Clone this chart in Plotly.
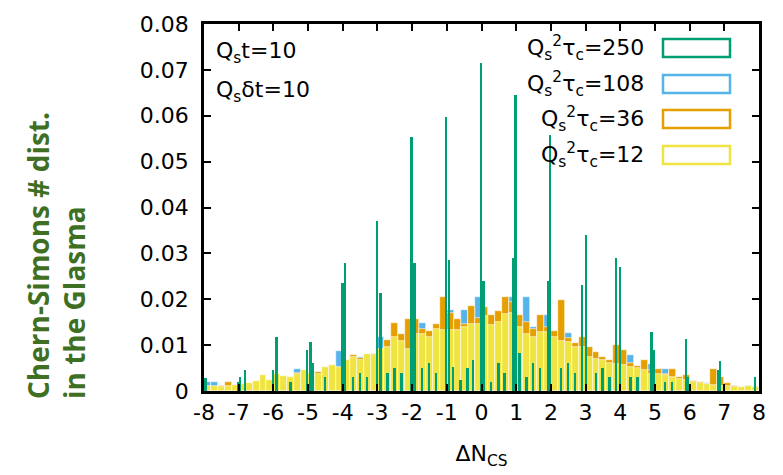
import numpy as np
import plotly.graph_objects as go

# bin centres (width 0.2) for the three broad distributions
bin_centers = np.round(np.arange(-7.9, 8.0, 0.2), 2)

# Qs^2 tau_c = 12 (yellow)
tau12 = [0.0012, 0.0010, 0.0009, 0.0011, 0.0013, 0.0015, 0.0018, 0.0022, 0.0034, 0.0025,
         0.0036, 0.0032, 0.0030, 0.0036, 0.0045, 0.0040, 0.0038, 0.0052, 0.0056, 0.0052,
         0.0067, 0.0074, 0.0068, 0.0081, 0.0078, 0.0092, 0.0096, 0.0118, 0.0110, 0.0092,
         0.0125, 0.0125, 0.0118, 0.0136, 0.0132, 0.0132, 0.0134, 0.0140, 0.0147, 0.0147,
         0.0163, 0.0143, 0.0150, 0.0168, 0.0170, 0.0140, 0.0125, 0.0118, 0.0128, 0.0128,
         0.0118, 0.0110, 0.0107, 0.0096, 0.0096, 0.0075, 0.0070, 0.0067, 0.0060, 0.0058,
         0.0056, 0.0052, 0.0050, 0.0045, 0.0038, 0.0036, 0.0034, 0.0030, 0.0026, 0.0023,
         0.0020, 0.0017, 0.0016, 0.0014, 0.0012, 0.0010, 0.0009, 0.0009, 0.0010, 0.0008]

# Qs^2 tau_c = 36 (orange)
tau36 = [0.0008, 0.0005, 0.0010, 0.0020, 0.0012, 0.0010, 0.0015, 0.0018, 0.0020, 0.0022,
         0.0028, 0.0030, 0.0025, 0.0040, 0.0035, 0.0032, 0.0042, 0.0049, 0.0045, 0.0050,
         0.0060, 0.0078, 0.0072, 0.0075, 0.0080, 0.0092, 0.0112, 0.0148, 0.0125, 0.0158,
         0.0158, 0.0136, 0.0130, 0.0145, 0.0205, 0.0170, 0.0158, 0.0145, 0.0185, 0.0160,
         0.0183, 0.0165, 0.0175, 0.0205, 0.0195, 0.0165, 0.0150, 0.0135, 0.0165, 0.0140,
         0.0130, 0.0198, 0.0115, 0.0105, 0.0118, 0.0095, 0.0085, 0.0075, 0.0068, 0.0100,
         0.0089, 0.0060, 0.0055, 0.0067, 0.0045, 0.0049, 0.0038, 0.0049, 0.0030, 0.0034,
         0.0022, 0.0020, 0.0015, 0.0049, 0.0030, 0.0018, 0.0012, 0.0007, 0.0009, 0.0008]

# Qs^2 tau_c = 108 (blue)
tau108 = [0.0020, 0.0020, 0.0012, 0.0010, 0.0008, 0.0015, 0.0012, 0.0014, 0.0018, 0.0020,
          0.0024, 0.0026, 0.0030, 0.0049, 0.0030, 0.0035, 0.0036, 0.0042, 0.0050, 0.0087,
          0.0065, 0.0070, 0.0075, 0.0078, 0.0080, 0.0118, 0.0095, 0.0105, 0.0110, 0.0125,
          0.0120, 0.0148, 0.0120, 0.0135, 0.0140, 0.0176, 0.0150, 0.0177, 0.0160, 0.0205,
          0.0160, 0.0150, 0.0155, 0.0175, 0.0205, 0.0160, 0.0205, 0.0140, 0.0130, 0.0165,
          0.0120, 0.0110, 0.0126, 0.0100, 0.0090, 0.0085, 0.0075, 0.0068, 0.0065, 0.0060,
          0.0062, 0.0078, 0.0050, 0.0045, 0.0058, 0.0042, 0.0049, 0.0030, 0.0028, 0.0027,
          0.0022, 0.0018, 0.0017, 0.0020, 0.0015, 0.0012, 0.0010, 0.0008, 0.0010, 0.0008]

# Qs^2 tau_c = 250 (green): narrow spikes near integer values
tau250_x = [-7.95, -7.0, -6.96, -6.81, -6.0, -5.9, -5.5, -5.02, -4.92, -4.86, -4.5,
            -4.0, -3.93, -3.7, -3.5, -3.3, -3.0, -2.9, -2.7, -2.5, -2.3,
            -2.01, -1.92, -1.7, -1.5, -1.3, -1.01, -0.93, -0.82, -0.6, -0.4, -0.24,
            0.0, 0.07, 0.28, 0.5, 0.67, 0.91, 0.99, 1.1, 1.3, 1.5, 1.7,
            1.92, 1.99, 2.3, 2.5, 2.7, 2.91, 3.02, 3.3, 3.5, 3.7,
            3.89, 4.0, 4.3, 4.5, 4.91, 4.98, 5.3, 5.5, 5.9, 5.96, 6.82, 6.89, 7.9]
tau250_y = [0.0028, 0.0020, 0.0030, 0.0046, 0.0045, 0.0118, 0.0020, 0.0089, 0.0107, 0.0060, 0.0030,
            0.0235, 0.0280, 0.0030, 0.0040, 0.0030, 0.0371, 0.0214, 0.0040, 0.0050, 0.0040,
            0.0553, 0.0280, 0.0050, 0.0060, 0.0040, 0.0598, 0.0285, 0.0053, 0.0024, 0.0050, 0.0068,
            0.0715, 0.0240, 0.0020, 0.0060, 0.0040, 0.0290, 0.0646, 0.0083, 0.0030, 0.0060, 0.0050,
            0.0240, 0.0558, 0.0050, 0.0060, 0.0040, 0.0230, 0.0340, 0.0040, 0.0050, 0.0030,
            0.0290, 0.0270, 0.0030, 0.0030, 0.0129, 0.0089, 0.0020, 0.0020, 0.0114, 0.0030, 0.0045, 0.0065, 0.0030]

x_ticks = list(range(-8, 9))
y_ticks = [0, 0.01, 0.02, 0.03, 0.04, 0.05, 0.06, 0.07, 0.08]

series_names = ["Q<sub>s</sub><sup>2</sup>τ<sub>c</sub>=250", "Q<sub>s</sub><sup>2</sup>τ<sub>c</sub>=108",
                "Q<sub>s</sub><sup>2</sup>τ<sub>c</sub>=36", "Q<sub>s</sub><sup>2</sup>τ<sub>c</sub>=12"]
colors = ["#009E73", "#56B4E9", "#E69F00", "#F0E442"]

FONT = "DejaVu Sans"

fig = go.Figure()
fig.add_trace(go.Bar(x=bin_centers, y=tau108, width=0.2, marker=dict(color=colors[1], line=dict(width=0.6, color="white")), name=series_names[1], showlegend=False))
fig.add_trace(go.Bar(x=bin_centers, y=tau36, width=0.2, marker=dict(color=colors[2], line=dict(width=0.6, color="white")), name=series_names[2], showlegend=False))
fig.add_trace(go.Bar(x=bin_centers, y=tau12, width=0.2, marker=dict(color=colors[3], line=dict(width=0.6, color="white")), name=series_names[3], showlegend=False))
fig.add_trace(go.Bar(x=tau250_x, y=tau250_y, width=0.055, marker=dict(color=colors[0], line=dict(width=0)), name=series_names[0], showlegend=False))

L, R, T, B = 204, 24, 24, 84
W, H = 783, 475
pw, ph = W - L - R, H - T - B

def px2x(px):
    return (px - L) / pw

def py2y(py):
    return (H - B - py) / ph

annotations = []
shapes = []
# legend drawn manually: right-aligned labels and open boxes
rows = [48, 84, 119, 155]
for name, col, yc in zip(series_names, colors, rows):
    annotations.append(dict(x=px2x(646), y=py2y(yc), xref="paper", yref="paper", text=name,
                            showarrow=False, xanchor="right", yanchor="middle",
                            font=dict(family=FONT, size=22, color="black")))
    shapes.append(dict(type="rect", xref="paper", yref="paper", x0=px2x(663), x1=px2x(730),
                       y0=py2y(yc + 9), y1=py2y(yc - 9), line=dict(color=col, width=2.5),
                       fillcolor="rgba(0,0,0,0)"))

annotations.append(dict(x=px2x(214), y=py2y(52), xref="paper", yref="paper", text="Q<sub>s</sub>t=10",
                        showarrow=False, xanchor="left", yanchor="middle",
                        font=dict(family=FONT, size=22, color="black")))
annotations.append(dict(x=px2x(214), y=py2y(92), xref="paper", yref="paper", text="Q<sub>s</sub>δt=10",
                        showarrow=False, xanchor="left", yanchor="middle",
                        font=dict(family=FONT, size=22, color="black")))
annotations.append(dict(x=px2x(56), y=py2y(256), xref="paper", yref="paper",
                        text="<b>Chern-Simons # dist.</b><br><b>in the Glasma</b>",
                        showarrow=False, xanchor="center", yanchor="middle", textangle=-90, align="left",
                        font=dict(family="Open Sans", size=28, color="#3f6f22")))

fig.update_layout(
    width=W, height=H,
    margin=dict(l=L, r=R, t=T, b=B, pad=0),
    paper_bgcolor="white", plot_bgcolor="white",
    barmode="overlay", bargap=0,
    font=dict(family=FONT, size=22, color="black"),
    annotations=annotations, shapes=shapes,
    showlegend=False,
)
fig.update_xaxes(range=[-8, 8], tickvals=x_ticks, ticktext=[str(v) for v in x_ticks],
                 ticks="inside", ticklen=7, tickwidth=2, tickcolor="black",
                 showline=True, linewidth=2.5, linecolor="black", mirror="ticks",
                 showgrid=False, zeroline=False,
                 title=dict(text="ΔN<sub>CS</sub>", font=dict(family=FONT, size=22), standoff=22),
                 tickfont=dict(family=FONT, size=22))
fig.update_yaxes(range=[0, 0.08], tickvals=y_ticks, ticktext=["0" if v == 0 else f"{v:.2f}" for v in y_ticks],
                 ticks="inside", ticklen=7, tickwidth=2, tickcolor="black",
                 showline=True, linewidth=2.5, linecolor="black", mirror="ticks",
                 showgrid=False, zeroline=False, ticklabelstandoff=8,
                 tickfont=dict(family=FONT, size=22))

fig.write_html("out.html")
